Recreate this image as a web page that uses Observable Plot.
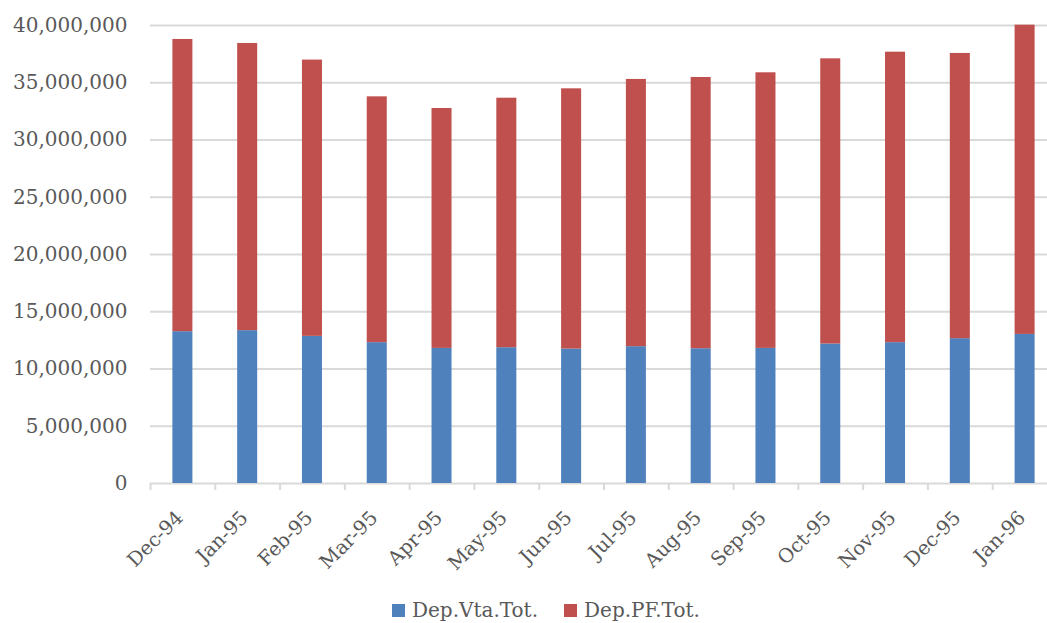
<!DOCTYPE html>
<html>
<head>
<meta charset="utf-8">
<script src="https://cdn.jsdelivr.net/npm/d3@7"></script>
<script src="https://cdn.jsdelivr.net/npm/@observablehq/plot@0.6"></script>
<style>
  html, body { margin: 0; padding: 0; background: #fff; }
  #wrap { position: relative; width: 1047px; height: 623px; overflow: hidden; font-family: "DejaVu Serif", serif; }
  #legend { position: absolute; left: 392px; top: 598px; display: flex; align-items: center; font-size: 20px; color: #595959; white-space: nowrap; }
  .item { display: flex; align-items: center; margin-right: 26px; }
  .sw { width: 13px; height: 13px; margin-right: 7px; }
</style>
</head>
<body>
<div id="wrap">
  <div id="chart"></div>
  <div id="legend"></div>
</div>
<script>
// Monthly deposit totals, Dec-94 to Jan-96
const months = ["Dec-94", "Jan-95", "Feb-95", "Mar-95", "Apr-95", "May-95", "Jun-95",
                "Jul-95", "Aug-95", "Sep-95", "Oct-95", "Nov-95", "Dec-95", "Jan-96"];
const seriesNames = ["Dep.Vta.Tot.", "Dep.PF.Tot."];
const seriesColors = ["#4F81BD", "#C0504D"];
const depVta = [13260000, 13350000, 12850000, 12300000, 11800000, 11860000, 11740000,
                11950000, 11770000, 11800000, 12180000, 12300000, 12650000, 13020000];
const depPF  = [25520000, 25080000, 24130000, 21470000, 20950000, 21790000, 22730000,
                23340000, 23690000, 24070000, 24910000, 25370000, 24910000, 27010000];
const yTicks = [0, 5000000, 10000000, 15000000, 20000000, 25000000, 30000000, 35000000, 40000000];

// Long-format rows for stacking (demand deposits at the bottom)
const rows = [];
months.forEach((m, i) => {
  rows.push({month: m, series: seriesNames[0], value: depVta[i]});
  rows.push({month: m, series: seriesNames[1], value: depPF[i]});
});

const step = (1057 - 150) / months.length;
const grid = "#d9d9d9";
const ink = "#595959";

const chart = Plot.plot({
  width: 1047,
  height: 595,
  marginLeft: 150,
  marginRight: 0,
  marginTop: 25,
  marginBottom: 112,
  style: {fontFamily: "DejaVu Serif, serif", fontSize: "20px", color: ink, background: "#fff", overflow: "visible"},
  x: {domain: months, range: [150, 1057], paddingInner: 0.691, paddingOuter: 0.3455, round: false},
  y: {domain: [0, 40000000]},
  color: {domain: seriesNames, range: seriesColors},
  marks: [
    Plot.ruleY(yTicks, {stroke: grid, strokeWidth: 2}),
    Plot.barY(rows, {x: "month", y: "value", fill: "series"}),
    Plot.axisY({ticks: yTicks, tickFormat: d3.format(","), tickSize: 0, tickPadding: 23, label: null, fill: ink}),
    // category boundary ticks below the baseline
    Plot.axisX({tickFormat: null, tickSize: 7, stroke: grid, strokeWidth: 2, dx: -step / 2, label: null}),
    Plot.axisX({tickSize: 0, tickPadding: 31, tickRotate: -45, label: null, fill: ink, dx: -3, fontSize: 19.5})
  ]
});
document.getElementById("chart").appendChild(chart);

// Legend below the chart
const legend = document.getElementById("legend");
seriesNames.forEach((name, i) => {
  const item = document.createElement("div");
  item.className = "item";
  const sw = document.createElement("div");
  sw.className = "sw";
  sw.style.background = seriesColors[i];
  const label = document.createElement("span");
  label.textContent = name;
  item.appendChild(sw);
  item.appendChild(label);
  legend.appendChild(item);
});
</script>
</body>
</html>
